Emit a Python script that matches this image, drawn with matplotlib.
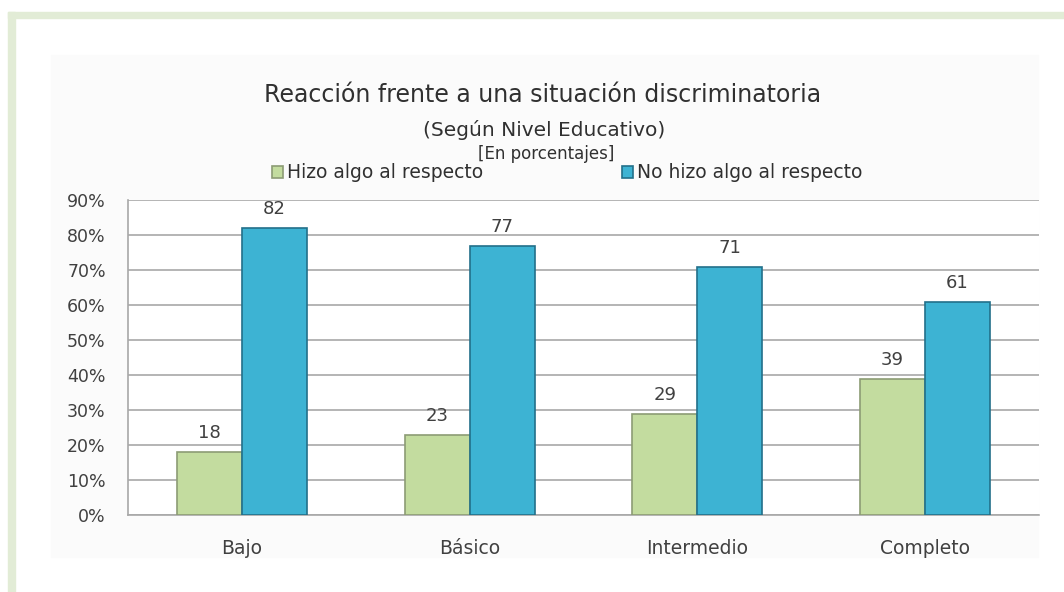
import matplotlib.pyplot as plt
from matplotlib.patches import Rectangle
import numpy as np

plt.rcParams['font.family'] = ['DejaVu Sans']

categorias = ['Bajo', 'Básico', 'Intermedio', 'Completo']
hizo_algo = [18, 23, 29, 39]
no_hizo = [82, 77, 71, 61]
yticks = [0, 10, 20, 30, 40, 50, 60, 70, 80, 90]

verde = '#c3dc9f'
azul = '#3db3d3'

fig = plt.figure(figsize=(10.64, 5.92), dpi=100)
W, H = 1064, 592

# green frame and faint chart area
fig.patches.append(Rectangle((8 / W, 1 - 18 / H), 1 - 8 / W, 6 / H, transform=fig.transFigure,
                             color='#e2ecd6', zorder=-2))
fig.patches.append(Rectangle((8 / W, 0), 7 / W, 1 - 12 / H, transform=fig.transFigure,
                             color='#e2ecd6', zorder=-2))
fig.patches.append(Rectangle((51 / W, 1 - 557 / H), 987 / W, 502 / H, transform=fig.transFigure,
                             color='#fbfbfb', zorder=-2))

ax = fig.add_axes([128 / W, 1 - 515 / H, 911 / W, 315 / H])
ax.set_zorder(2)
ax.set_facecolor('white')

x = np.arange(len(categorias))
w = 0.285
b1 = ax.bar(x - w / 2, hizo_algo, w, color=verde, edgecolor='#8c9c74', linewidth=1.2, zorder=3)
b2 = ax.bar(x + w / 2, no_hizo, w, color=azul, edgecolor='#22708a', linewidth=1.2, zorder=3)

for bars, vals in [(b1, hizo_algo), (b2, no_hizo)]:
    for r, v in zip(bars, vals):
        ax.annotate(str(v), (r.get_x() + r.get_width() / 2, v), xytext=(0, 7),
                    textcoords='offset points', ha='center', va='bottom',
                    fontsize=13, color='#404040')

ax.set_xlim(-0.5, len(categorias) - 0.5)
ax.set_ylim(0, 90)
ax.set_yticks(yticks)
ax.set_yticklabels([f'{t}%' for t in yticks], fontsize=12.5, color='#404040')
ax.set_xticks(x)
ax.set_xticklabels(categorias, fontsize=13.5, color='#404040')
ax.tick_params(axis='both', length=0)
ax.tick_params(axis='y', pad=16)
ax.tick_params(axis='x', pad=17)
ax.grid(axis='y', color='#a8a8a8', linewidth=1.2, zorder=0)
for s in ['top', 'right']:
    ax.spines[s].set_visible(False)
ax.spines['left'].set_color('#a8a8a8')
ax.spines['bottom'].set_color('#a8a8a8')
ax.spines['left'].set_linewidth(1.2)
ax.spines['bottom'].set_linewidth(1.2)

fig.text(543 / W, 1 - 95 / H, 'Reacción frente a una situación discriminatoria',
         ha='center', va='center', fontsize=17, color='#303030')
fig.text(544 / W, 1 - 130 / H, '(Según Nivel Educativo)',
         ha='center', va='center', fontsize=14.5, color='#303030')
fig.text(546 / W, 1 - 154 / H, '[En porcentajes]',
         ha='center', va='center', fontsize=12, color='#303030')

leg = fig.legend([b1, b2], ['Hizo algo al respecto', 'No hizo algo al respecto'],
                 loc='center left', bbox_to_anchor=(255 / W, 1 - 173 / H), ncol=2,
                 frameon=False, fontsize=13.5, handlelength=0.6, handleheight=0.6,
                 handletextpad=0.2, columnspacing=7.4, labelcolor='#303030')

fig.savefig('out.png', dpi=100, facecolor='white')
